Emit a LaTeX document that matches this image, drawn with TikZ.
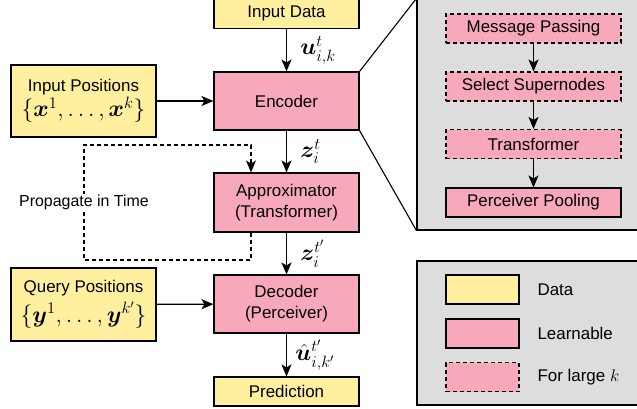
\RequirePackage{fix-cm}
\documentclass[tikz,border=0pt]{standalone}
\usepackage{amsmath}
\usepackage{bm}
\usepackage{fontspec}
\setmainfont{Liberation Sans}
\usetikzlibrary{arrows.meta}

\definecolor{datayellow}{HTML}{FFF0A0}
\definecolor{learnpink}{HTML}{F8A8BB}
\definecolor{panelgray}{HTML}{DDDDDD}

% larger formulas for the labels
\newcommand{\bigmath}[1]{{\fontsize{23.5}{27}\selectfont$#1$}}

\tikzset{
  box/.style={draw=black, line width=1.1bp, align=center, inner sep=0pt},
  databox/.style={box, fill=datayellow},
  learnbox/.style={box, fill=learnpink},
  largebox/.style={learnbox, dash pattern=on 4bp off 3bp},
  panel/.style={draw=black, line width=1.1bp, fill=panelgray, inner sep=0pt},
  flow/.style={line width=1.2bp, -{Stealth[length=12bp, width=10bp, inset=3bp]}},
}

\begin{document}
\begin{tikzpicture}[x=1bp, y=-1bp, font=\fontsize{17}{21}\selectfont]
\useasboundingbox (0,0) rectangle (637,408);

%%%%%%%%%%%%%%%%%%%% Zoom panels %%%%%%%%%%%%%%%%%%%%%%%%%%
\node[panel, minimum width=221bp, minimum height=231bp] (zoom) at (527.5,114.5) {};
\node[panel, minimum width=221bp, minimum height=144bp] (legend) at (527.5,333) {};

%%%%%%%%%%%%%%%%%%%% Main pipeline %%%%%%%%%%%%%%%%%%%%%%%%%%
\node[databox, minimum width=145bp, minimum height=30bp] (indata) at (286.5,13.5) {Input Data};
\node[learnbox, minimum width=145bp, minimum height=58bp] (encoder) at (286.5,101) {Encoder};
\node[learnbox, minimum width=145bp, minimum height=59bp] (approx) at (286.5,202.5) {Approximator\\(Transformer)};
\node[learnbox, minimum width=145bp, minimum height=58bp] (decoder) at (286.5,304) {Decoder\\(Perceiver)};
\node[databox, minimum width=145bp, minimum height=29bp] (pred) at (286.5,391.5) {Prediction};

\node[databox, minimum width=145bp, minimum height=72bp] (inpos) at (83.5,101)
  {Input Positions\\[1bp]\bigmath{\{\bm{x}^1,\dots,\bm{x}^k\}}};
\node[databox, minimum width=145bp, minimum height=73bp] (qpos) at (83.5,304.5)
  {Query Positions\\[4bp]\bigmath{\{\bm{y}^1,\dots,\bm{y}^{k'}\}}};

\path[flow] (indata) edge node[right=10bp] {\bigmath{\bm{u}^t_{i,k}}} (encoder);
\path[flow] (encoder) edge node[right=10bp] {\bigmath{\bm{z}^t_i}} (approx);
\path[flow] (approx) edge node[right=10bp] {\bigmath{\bm{z}^{t'}_i}} (decoder);
\path[flow] (decoder) edge node[right=5bp] {\bigmath{\hat{\bm{u}}^{t'}_{i,k'}}} (pred);
\path[flow] (inpos) edge (encoder);
\path[flow] (qpos) edge (decoder);

% loop back through time
\coordinate (turnb) at (84,260);
\coordinate (turnt) at (84,145);
\draw[flow, dash pattern=on 4bp off 3bp] ([xshift=-35.5bp]approx.south) |- (turnb)
  -- node[fill=white, inner sep=1bp] {\fontsize{16}{19}\selectfont Propagate in Time} (turnt)
  -| ([xshift=-35.5bp]approx.north);

% encoder blow-up
\draw[line width=1.1bp] (encoder.north east) -- (zoom.north west);
\draw[line width=1.1bp] (encoder.south east) -- (zoom.south west);

%%%%%%%%%%%%%%%%%%%% Encoder internals %%%%%%%%%%%%%%%%%%%%%%%%%%
\node[largebox, minimum width=175bp, minimum height=29bp] (mp) at (533.5,28.5) {Message Passing};
\node[largebox, minimum width=175bp, minimum height=29bp] (sel) at (533.5,86.5) {Select Supernodes};
\node[largebox, minimum width=175bp, minimum height=29bp] (tf) at (533.5,144) {Transformer};
\node[learnbox, minimum width=175bp, minimum height=29bp] (pool) at (533.5,202.5) {Perceiver Pooling};

\foreach \from/\to in {mp/sel, sel/tf, tf/pool}
{
    \path[flow] (\from) edge (\to);
}

%%%%%%%%%%%%%%%%%%%% Legend %%%%%%%%%%%%%%%%%%%%%%%%%%
\node[databox, minimum width=73bp, minimum height=29bp] (keydata) at (482.5,289.5) {};
\node[learnbox, minimum width=73bp, minimum height=29bp] (keylearn) at (482.5,333.5) {};
\node[largebox, minimum width=73bp, minimum height=29bp] (keylarge) at (482.5,377) {};
\node[anchor=west] (txtdata) at (534,289.5) {Data};
\node[anchor=west] (txtlearn) at (534,333.5) {Learnable};
\node[anchor=west] (txtlarge) at (534,377) {For large $k$};

\end{tikzpicture}
\end{document}
